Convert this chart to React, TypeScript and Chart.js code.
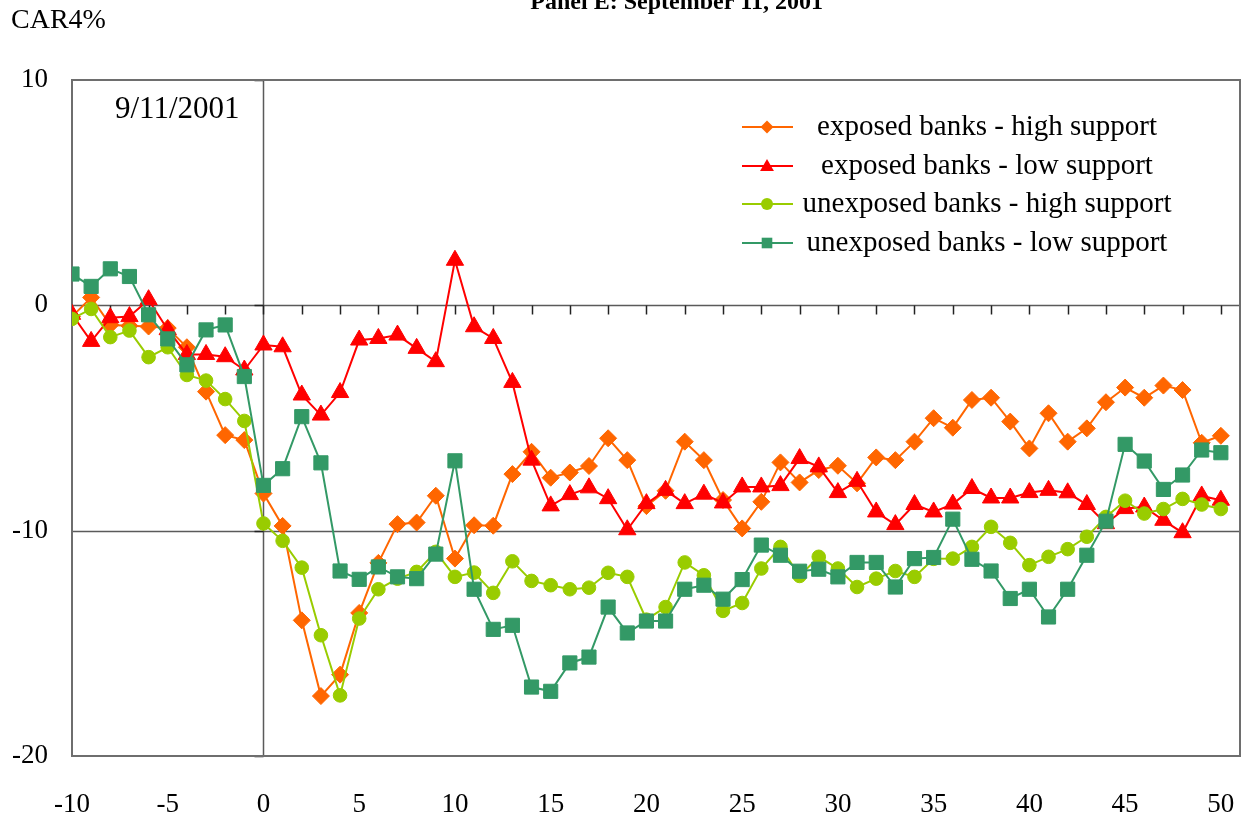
import React, { useEffect, useRef } from 'react';
import { Chart, registerables } from 'chart.js';

Chart.register(...registerables);

const days = [
  -10, -9, -8, -7, -6, -5, -4, -3, -2, -1, 0, 1, 2, 3, 4, 5, 6, 7, 8, 9, 10,
  11, 12, 13, 14, 15, 16, 17, 18, 19, 20, 21, 22, 23, 24, 25, 26, 27, 28, 29, 30,
  31, 32, 33, 34, 35, 36, 37, 38, 39, 40, 41, 42, 43, 44, 45, 46, 47, 48, 49, 50,
];

const xTickLabels = [-10, -5, 0, 5, 10, 15, 20, 25, 30, 35, 40, 45, 50];
const yTickLabels = [-20, -10, 0, 10];

const exposedHigh = [
  -0.5, 0.35, -0.87, -0.91, -0.94, -1.01, -1.86, -3.83, -5.76, -5.98, -8.35,
  -9.79, -13.98, -17.34, -16.39, -13.65, -11.43, -9.71, -9.64, -8.45, -11.24,
  -9.76, -9.78, -7.49, -6.5, -7.65, -7.42, -7.13, -5.9, -6.87, -8.91,
  -8.23, -6.05, -6.87, -8.64, -9.9, -8.72, -6.97, -7.86, -7.31, -7.12,
  -7.9, -6.75, -6.87, -6.05, -5.01, -5.43, -4.2, -4.1, -5.16, -6.35,
  -4.79, -6.05, -5.46, -4.3, -3.65, -4.1, -3.56, -3.76, -6.1, -5.79,
];

const exposedLow = [
  -0.4, -1.6, -0.55, -0.5, 0.25, -1.08, -2.18, -2.18, -2.28, -2.87, -1.76,
  -1.84, -3.98, -4.87, -3.87, -1.54, -1.47, -1.32, -1.91, -2.5, 2.0,
  -0.95, -1.47, -3.42, -6.87, -8.9, -8.4, -8.1, -8.58, -9.96, -8.8,
  -8.21, -8.8, -8.38, -8.77, -8.06, -8.06, -8.0, -6.8, -7.17, -8.31,
  -7.81, -9.17, -9.73, -8.84, -9.17, -8.82, -8.13, -8.55, -8.55, -8.31,
  -8.21, -8.32, -8.84, -9.69, -9.02, -8.95, -9.54, -10.09, -8.46, -8.65,
];

const unexposedHigh = [
  -0.6, -0.16, -1.41, -1.12, -2.3, -1.86, -3.09, -3.34, -4.16, -5.13, -9.68,
  -10.45, -11.64, -14.64, -17.31, -13.9, -12.6, -12.13, -11.83, -10.94, -12.05,
  -11.86, -12.76, -11.36, -12.23, -12.42, -12.6, -12.53, -11.87, -12.05, -13.95,
  -13.39, -11.41, -11.98, -13.56, -13.21, -11.68, -10.72, -12.01, -11.16, -11.68,
  -12.5, -12.13, -11.79, -12.05, -11.25, -11.24, -10.72, -9.83, -10.54, -11.53,
  -11.16, -10.82, -10.27, -9.39, -8.67, -9.24, -9.04, -8.59, -8.84, -9.04,
];

const unexposedLow = [
  1.39, 0.84, 1.62, 1.28, -0.42, -1.49, -2.64, -1.09, -0.87, -3.16, -7.99,
  -7.25, -4.94, -6.99, -11.79, -12.16, -11.61, -12.05, -12.13, -11.04, -6.9,
  -12.6, -14.38, -14.2, -16.94, -17.13, -15.87, -15.61, -13.39, -14.54, -14.01,
  -14.01, -12.6, -12.42, -13.04, -12.17, -10.64, -11.09, -11.8, -11.71, -12.05,
  -11.41, -11.41, -12.5, -11.24, -11.19, -9.49, -11.27, -11.79, -13.01, -12.6,
  -13.83, -12.6, -11.09, -9.58, -6.17, -6.91, -8.17, -7.53, -6.42, -6.54,
];

const seriesLabels = [
  'exposed banks - high support',
  'exposed banks - low support',
  'unexposed banks - high support',
  'unexposed banks - low support',
];

const FONT = "'Liberation Serif', 'Times New Roman', serif";
const COLORS = ['#FF6600', '#FF0000', '#99CC00', '#339966'];
const STYLES = ['rectRot', 'triangle', 'circle', 'rect'];

function drawMarker(ctx: CanvasRenderingContext2D, style: string, x: number, y: number, r: number) {
  ctx.beginPath();
  if (style === 'rectRot') {
    ctx.moveTo(x, y - r);
    ctx.lineTo(x + r, y);
    ctx.lineTo(x, y + r);
    ctx.lineTo(x - r, y);
    ctx.closePath();
  } else if (style === 'triangle') {
    ctx.moveTo(x, y - r);
    ctx.lineTo(x + r * 0.866, y + r * 0.5);
    ctx.lineTo(x - r * 0.866, y + r * 0.5);
    ctx.closePath();
  } else if (style === 'circle') {
    ctx.arc(x, y, r, 0, Math.PI * 2);
  } else {
    const s = r * 0.7071;
    ctx.rect(x - s, y - s, 2 * s, 2 * s);
  }
  ctx.fill();
}

export default function App() {
  const ref = useRef<HTMLCanvasElement>(null);

  useEffect(() => {
    const canvas = ref.current;
    if (!canvas) return;
    const toPts = (arr: number[]) => days.map((d, i) => ({ x: d, y: arr[i] }));
    const allSeries = [exposedHigh, exposedLow, unexposedHigh, unexposedLow];
    const radii = [8.5, 10, 6.8, 10];

    const framePlugin = {
      id: 'frame',
      beforeDatasetsDraw(chart: any) {
        const { ctx, chartArea: a, scales } = chart;
        const x = scales.x;
        const y = scales.y;
        ctx.save();
        ctx.strokeStyle = '#5a5a5a';
        ctx.lineWidth = 1.5;
        [0, -10].forEach((v) => {
          const py = Math.round(y.getPixelForValue(v)) + 0.5;
          ctx.beginPath();
          ctx.moveTo(a.left, py);
          ctx.lineTo(a.right, py);
          ctx.stroke();
        });
        const px0 = Math.round(x.getPixelForValue(0)) + 0.5;
        ctx.beginPath();
        ctx.moveTo(px0, a.top);
        ctx.lineTo(px0, a.bottom);
        ctx.stroke();
        // x-axis tick marks at y = 0
        const py0 = Math.round(y.getPixelForValue(0)) + 0.5;
        ctx.strokeStyle = '#222';
        ctx.lineWidth = 1.5;
        for (let v = -8; v <= 50; v += 2) {
          const px = Math.round(x.getPixelForValue(v)) + 0.5;
          ctx.beginPath();
          ctx.moveTo(px, py0);
          ctx.lineTo(px, py0 + 9);
          ctx.stroke();
        }
        // y-axis tick marks at x = 0
        [10, 0, -10, -20].forEach((v) => {
          const py = Math.round(y.getPixelForValue(v)) + 0.5;
          ctx.beginPath();
          ctx.moveTo(px0 - 9, py);
          ctx.lineTo(px0, py);
          ctx.stroke();
        });
        // frame
        ctx.strokeStyle = '#6e6e6e';
        ctx.lineWidth = 2;
        ctx.strokeRect(a.left, a.top, a.right - a.left, a.bottom - a.top);
        ctx.restore();
      },
      afterDraw(chart: any) {
        const { ctx } = chart;
        ctx.save();
        ctx.fillStyle = '#000';
        // title (cut off at the top)
        ctx.font = `bold 24px ${FONT}`;
        ctx.textAlign = 'right';
        ctx.textBaseline = 'alphabetic';
        ctx.fillText('Panel E: September 11, 2001', 823, 9);
        // y axis unit
        ctx.font = `28px ${FONT}`;
        ctx.textAlign = 'left';
        ctx.textBaseline = 'middle';
        ctx.fillText('CAR4%', 11, 21);
        // event date
        ctx.font = `31px ${FONT}`;
        ctx.fillText('9/11/2001', 115, 110);
        // legend
        ctx.font = `29px ${FONT}`;
        const rowsY = [127, 166, 204, 243];
        const legR = [6.5, 8, 6, 7.5];
        seriesLabels.forEach((lab, i) => {
          const yy = rowsY[i];
          ctx.strokeStyle = COLORS[i];
          ctx.fillStyle = COLORS[i];
          ctx.lineWidth = 2;
          ctx.beginPath();
          ctx.moveTo(742, yy);
          ctx.lineTo(793, yy);
          ctx.stroke();
          drawMarker(ctx, STYLES[i], 767, yy + (i === 1 ? 1 : 0), legR[i]);
          ctx.fillStyle = '#000';
          ctx.textAlign = 'center';
          ctx.textBaseline = 'middle';
          ctx.fillText(lab, 987, yy);
        });
        ctx.restore();
      },
    };

    const chart = new Chart(canvas, {
      type: 'scatter',
      data: {
        datasets: allSeries.map((arr, i) => ({
          label: seriesLabels[i],
          data: toPts(arr),
          showLine: true,
          borderColor: COLORS[i],
          backgroundColor: COLORS[i],
          borderWidth: 2,
          pointStyle: STYLES[i] as any,
          pointRadius: radii[i],
          pointHoverRadius: radii[i],
          pointBorderWidth: 1,
          pointBorderColor: COLORS[i],
          pointBackgroundColor: COLORS[i],
          order: 4 - i,
        })),
      },
      options: {
        animation: false,
        responsive: false,
        events: [],
        layout: { padding: { top: 80, right: 3, left: 0, bottom: 0 } },
        plugins: {
          legend: { display: false },
          tooltip: { enabled: false },
          title: { display: false },
        },
        scales: {
          x: {
            type: 'linear',
            position: 'bottom',
            min: -10,
            max: 51,
            grid: {
              display: true,
              drawOnChartArea: false,
              drawTicks: true,
              tickLength: 33,
              color: 'rgba(0,0,0,0)',
            },
            border: { display: false },
            ticks: {
              color: '#000',
              font: { family: FONT, size: 27 },
              padding: 0,
              maxRotation: 0,
              autoSkip: false,
            },
            afterBuildTicks: (s: any) => {
              s.ticks = xTickLabels.map((v) => ({ value: v }));
            },
            afterFit: (s: any) => {
              s.height = 64;
            },
          },
          y: {
            type: 'linear',
            min: -20,
            max: 10,
            grid: { display: false },
            border: { display: false },
            ticks: {
              color: '#000',
              font: { family: FONT, size: 27 },
              padding: 16,
            },
            afterBuildTicks: (s: any) => {
              s.ticks = yTickLabels.map((v) => ({ value: v }));
            },
            afterFit: (s: any) => {
              s.width = 72;
            },
          },
        },
      },
      plugins: [framePlugin],
    });
    return () => chart.destroy();
  }, []);

  return (
    <div
      style={{
        position: 'fixed',
        left: 0,
        top: 0,
        width: 1243,
        height: 820,
        overflow: 'hidden',
        background: '#fff',
      }}
    >
      <canvas ref={ref} width={1251} height={820} style={{ display: 'block' }} />
    </div>
  );
}
